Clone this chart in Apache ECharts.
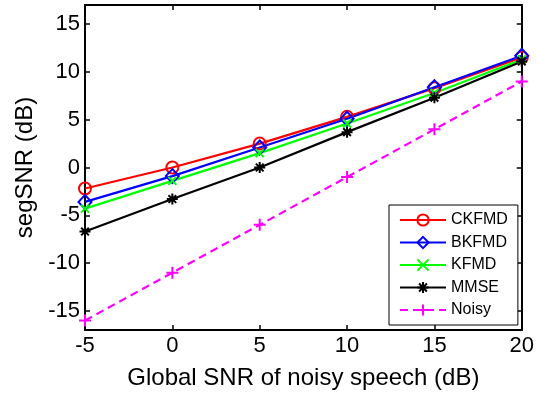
<!DOCTYPE html>
<html>
<head>
<meta charset="utf-8">
<script src="https://cdn.jsdelivr.net/npm/echarts@6/dist/echarts.min.js"></script>
<style>
  html, body { margin: 0; padding: 0; background: #fff; }
  #chart { width: 537px; height: 396px; }
</style>
</head>
<body>
<div id="chart"></div>
<script>
const snrLevels = [-5, 0, 5, 10, 15, 20];
const yTicks = [-15, -10, -5, 0, 5, 10, 15];

const ckfmd = [-2.2, 0.0, 2.5, 5.3, 8.3, 11.5];
const bkfmd = [-3.6, -0.9, 2.1, 5.1, 8.4, 11.7];
const kfmd = [-4.3, -1.4, 1.5, 4.6, 7.8, 11.3];
const mmse = [-6.7, -3.3, 0.0, 3.7, 7.3, 11.1];
const noisy = [-16, -11, -6, -1, 4, 9];

const FONT = "'Liberation Sans', Arial, Helvetica, sans-serif";

function pairs(vals) {
  return snrLevels.map((x, i) => [x, vals[i]]);
}

function makeSeries(name, vals, color, symbol, size, dashed, hollow) {
  return {
    name: name,
    type: 'line',
    data: pairs(vals),
    symbol: symbol,
    symbolSize: size,
    clip: false,
    lineStyle: { color: color, width: 2.2, type: dashed ? [8, 5] : 'solid' },
    itemStyle: {
      color: hollow ? 'rgba(0,0,0,0)' : color,
      borderColor: color,
      borderWidth: 2,
    },
    emphasis: { disabled: true },
  };
}

const chart = echarts.init(document.getElementById('chart'));

const axisLine = { onZero: false, lineStyle: { color: '#000', width: 2 } };
const tickInside = { inside: true, length: 5, lineStyle: { color: '#000', width: 1.5 } };

chart.setOption({
  animation: false,
  textStyle: { fontFamily: FONT },
  grid: { left: 85, right: 15, top: 5, bottom: 66 },
  legend: {
    orient: 'vertical',
    left: 389,
    top: 205,
    padding: [7, 10, 7, 10],
    itemWidth: 46,
    itemHeight: 14,
    itemGap: 6.5,
    backgroundColor: '#fff',
    borderColor: '#000',
    borderWidth: 1,
    textStyle: { fontFamily: FONT, fontSize: 16, color: '#000' },
  },
  xAxis: [
    {
      type: 'value',
      min: -5,
      max: 20,
      interval: 5,
      name: 'Global SNR of noisy speech (dB)',
      nameLocation: 'middle',
      nameGap: 36,
      nameTextStyle: { fontFamily: FONT, fontSize: 24, color: '#000' },
      axisLine: axisLine,
      axisTick: tickInside,
      axisLabel: { fontFamily: FONT, fontSize: 22, color: '#000', margin: 5 },
      splitLine: { show: false },
    },
    {
      type: 'value',
      position: 'top',
      min: -5,
      max: 20,
      interval: 5,
      axisLine: axisLine,
      axisTick: tickInside,
      axisLabel: { show: false },
      splitLine: { show: false },
    },
  ],
  yAxis: [
    {
      type: 'value',
      min: -17,
      max: 17,
      name: 'segSNR (dB)',
      nameLocation: 'middle',
      nameGap: 48,
      nameTextStyle: { fontFamily: FONT, fontSize: 24, color: '#000' },
      axisLine: axisLine,
      axisTick: Object.assign({ customValues: yTicks }, tickInside),
      axisLabel: { customValues: yTicks, fontFamily: FONT, fontSize: 22, color: '#000', margin: 5 },
      splitLine: { show: false },
    },
    {
      type: 'value',
      position: 'right',
      min: -17,
      max: 17,
      axisLine: axisLine,
      axisTick: Object.assign({ customValues: yTicks }, tickInside),
      axisLabel: { show: false },
      splitLine: { show: false },
    },
  ],
  series: [
    makeSeries('CKFMD', ckfmd, '#ff0000', 'circle', 12, false, true),
    makeSeries('BKFMD', bkfmd, '#0000ff', 'diamond', [13, 14], false, true),
    makeSeries('KFMD', kfmd, '#00ff00', 'path://M0,0L10,10M10,0L0,10', 8, false, false),
    makeSeries('MMSE', mmse, '#000000', 'path://M5,0L5,10M0,5L10,5M1.5,1.5L8.5,8.5M8.5,1.5L1.5,8.5', 11, false, false),
    makeSeries('Noisy', noisy, '#ff00ff', 'path://M5,0L5,10M0,5L10,5', 12, true, false),
  ],
});
</script>
</body>
</html>
